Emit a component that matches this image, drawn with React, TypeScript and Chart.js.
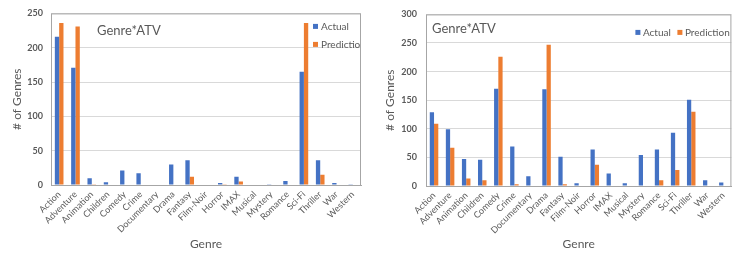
import React, { useEffect, useRef } from "react";
import { Chart, registerables } from "chart.js";

Chart.register(...registerables);

const genres = [
  "Action", "Adventure", "Animation", "Children", "Comedy", "Crime", "Documentary",
  "Drama", "Fantasy", "Film-Noir", "Horror", "IMAX", "Musical", "Mystery",
  "Romance", "Sci-Fi", "Thriller", "War", "Western",
];

const leftActual = [216, 171, 10, 4, 21, 17, 0, 30, 36, 0, 3, 12, 0, 1, 6, 165, 36, 3, 1];
const leftPrediction = [236, 231, 1, 0, 0, 0, 0, 0, 12, 0, 1, 5, 0, 0, 0, 236, 15, 0, 0];
const rightActual = [129, 99, 47, 46, 170, 69, 17, 169, 51, 5, 64, 22, 5, 54, 64, 93, 151, 10, 6];
const rightPrediction = [109, 67, 13, 10, 226, 3, 0, 247, 3, 0, 37, 0, 0, 1, 10, 28, 130, 0, 0];

const leftTicks = [0, 50, 100, 150, 200, 250];
const rightTicks = [0, 50, 100, 150, 200, 250, 300];

const chartTitle = "Genre*ATV";
const seriesNames = ["Actual", "Prediction"];
const yTitle = "# of Genres";
const xTitle = "Genre";

const BLUE = "#4472C4";
const ORANGE = "#ED7D31";
const TEXT = "#595959";
const FONT = "Lato";

type Spec = {
  actual: number[];
  prediction: number[];
  ticks: number[];
  yWidth: number;
  yTitlePad: number;
  tickPad: number;
  xHeight: number;
  padTop: number;
  padRight: number;
  legend: "vertical" | "horizontal";
  titleDx: number;
  titleDy: number;
};

function overlayPlugin(spec: Spec) {
  return {
    id: "overlay",
    afterDraw(chart: any) {
      const { ctx, chartArea } = chart;
      const { left, top, right, bottom } = chartArea;
      ctx.save();
      ctx.strokeStyle = "#a6a6a6";
      ctx.lineWidth = 1;
      ctx.strokeRect(left + 0.5, top + 0.5, right - left - 1, bottom - top);
      ctx.fillStyle = TEXT;
      ctx.textBaseline = "middle";
      ctx.textAlign = "left";
      ctx.font = `13px ${FONT}`;
      ctx.fillText(chartTitle, left + spec.titleDx, top + spec.titleDy);
      ctx.font = `10px ${FONT}`;
      ctx.beginPath();
      ctx.rect(left, top, right - left - 1, bottom - top);
      ctx.clip();
      const colors = [BLUE, ORANGE];
      if (spec.legend === "vertical") {
        const x = right - 48;
        [0, 1].forEach((i) => {
          const y = top + 13 + i * 18;
          ctx.fillStyle = colors[i];
          ctx.fillRect(x, y - 2.5, 5, 5);
          ctx.fillStyle = TEXT;
          ctx.fillText(seriesNames[i], x + 8, y);
        });
      } else {
        const y = top + 18;
        const xs = [right - 96, right - 54];
        [0, 1].forEach((i) => {
          ctx.fillStyle = colors[i];
          ctx.fillRect(xs[i], y - 2.5, 5, 5);
          ctx.fillStyle = TEXT;
          ctx.fillText(seriesNames[i], xs[i] + 7.5, y);
        });
      }
      ctx.restore();
    },
  };
}

function GenreChart({ spec, width, left }: { spec: Spec; width: number; left: number }) {
  const ref = useRef<HTMLCanvasElement | null>(null);
  useEffect(() => {
    if (!ref.current) return;
    const maxY = spec.ticks[spec.ticks.length - 1];
    const chart = new Chart(ref.current, {
      type: "bar",
      data: {
        labels: genres,
        datasets: [
          { label: seriesNames[0], data: spec.actual, backgroundColor: BLUE },
          { label: seriesNames[1], data: spec.prediction, backgroundColor: ORANGE },
        ],
      },
      options: {
        responsive: false,
        animation: false,
        events: [],
        datasets: { bar: { categoryPercentage: 0.53, barPercentage: 1 } },
        layout: { padding: { top: spec.padTop, right: spec.padRight, left: 0, bottom: 0 } },
        plugins: { legend: { display: false }, title: { display: false }, tooltip: { enabled: false } },
        scales: {
          x: {
            grid: { display: false, drawTicks: false },
            border: { display: true, color: "#a6a6a6" },
            ticks: {
              autoSkip: false,
              maxRotation: 45,
              minRotation: 45,
              color: TEXT,
              padding: 4,
              font: { family: FONT, size: 9 },
            },
            title: {
              display: true,
              text: xTitle,
              color: TEXT,
              font: { family: FONT, size: 12 },
              padding: { top: 0, bottom: 3 },
            },
            afterFit: (s: any) => {
              s.height = spec.xHeight;
            },
          },
          y: {
            min: 0,
            max: maxY,
            afterBuildTicks: (s: any) => {
              s.ticks = spec.ticks.map((v) => ({ value: v }));
            },
            grid: { color: "#d9d9d9", drawTicks: false },
            border: { display: false },
            ticks: {
              color: TEXT,
              padding: spec.tickPad,
              font: { family: FONT, size: 9, weight: "bold" },
            },
            title: {
              display: true,
              text: yTitle,
              color: TEXT,
              font: { family: FONT, size: 12 },
              padding: { top: spec.yTitlePad, bottom: 0 },
            },
            afterFit: (s: any) => {
              s.width = spec.yWidth;
            },
          },
        },
      },
      plugins: [overlayPlugin(spec)],
    } as any);
    return () => chart.destroy();
  }, [spec]);
  return (
    <canvas
      ref={ref}
      width={width}
      height={254}
      style={{ position: "absolute", left, top: 0, width, height: 254 }}
    />
  );
}

const leftSpec: Spec = {
  actual: leftActual,
  prediction: leftPrediction,
  ticks: leftTicks,
  yWidth: 51,
  yTitlePad: 10,
  tickPad: 8,
  xHeight: 69,
  padTop: 10,
  padRight: 9,
  legend: "vertical",
  titleDx: 46,
  titleDy: 17,
};

const rightSpec: Spec = {
  actual: rightActual,
  prediction: rightPrediction,
  ticks: rightTicks,
  yWidth: 56,
  yTitlePad: 13,
  tickPad: 9,
  xHeight: 68,
  padTop: 13,
  padRight: 0,
  legend: "horizontal",
  titleDx: 6,
  titleDy: 14,
};

export default function App() {
  return (
    <div
      style={{
        position: "fixed",
        left: 0,
        top: 0,
        width: 733,
        height: 254,
        overflow: "hidden",
        background: "#ffffff",
      }}
    >
      <GenreChart spec={leftSpec} width={370} left={0} />
      <GenreChart spec={rightSpec} width={365} left={370} />
    </div>
  );
}
